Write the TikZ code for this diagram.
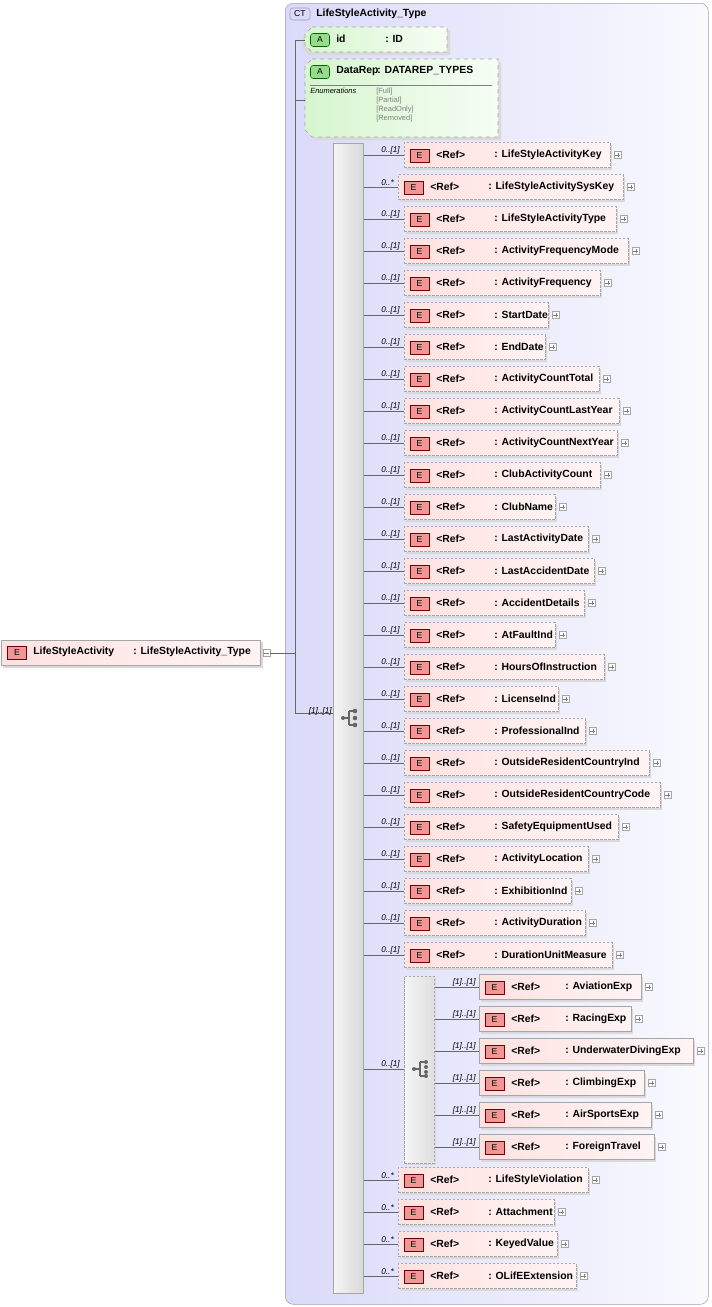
\documentclass[tikz,border=0pt]{standalone}
\usepackage{fontspec}
\setmainfont{Liberation Sans}
\usetikzlibrary{positioning}
\definecolor{ctfill}{RGB}{218,218,250}
\definecolor{ctline}{RGB}{160,160,180}
\definecolor{elfill}{RGB}{255,226,226}
\definecolor{badgefill}{RGB}{240,150,150}
\definecolor{attfill}{RGB}{214,246,206}
\definecolor{attbadge}{RGB}{150,220,140}
\tikzset{
  px/.style={x=0.75pt,y=-0.75pt},
  txt/.style={font=\bfseries\fontsize{7.8}{9}\selectfont, inner sep=0pt, anchor=west},
  card/.style={font=\itshape\fontsize{6.2}{7}\selectfont, inner sep=0pt, anchor=south east},
  enum/.style={font=\fontsize{5.6}{6.5}\selectfont, text=gray, inner sep=0pt, anchor=north west},
  elbox/.style={draw=gray!70, left color=elfill, right color=elfill!40, inner sep=0pt,
    minimum height=18.75pt, anchor=west},
  optbox/.style={elbox, dashed, dash pattern=on 2pt off 1pt},
  badge/.style={draw=red!45!black, fill=badgefill, font=\fontsize{6.5}{7}\selectfont,
    minimum width=14.25pt, minimum height=9.75pt, inner sep=0pt},
  plusbox/.style={draw=gray!70, fill=white, minimum size=5.5pt, inner sep=0pt},
  link/.style={draw=gray!80!black, line width=0.4pt},
}
\newcommand{\plusmark}[1]{%
  \node[plusbox, anchor=west] (#1p) at ([xshift=2.5pt]#1.east) {};
  \draw[gray, line width=0.3pt] ([xshift=-1.8pt]#1p.center) -- ([xshift=1.8pt]#1p.center)
    ([yshift=-1.8pt]#1p.center) -- ([yshift=1.8pt]#1p.center);}
\begin{document}
\begin{tikzpicture}[px]
\useasboundingbox (0,0) rectangle (711,1307);
% complex type frame
\node (ct) [draw=ctline, rounded corners=6pt, left color=ctfill, right color=ctfill!15,
  minimum width=317.25pt, minimum height=975.75pt, anchor=north west] at (285,3) {};
\node (ctb) [draw=ctline, fill=ctfill, rounded corners=2pt, minimum width=15pt,
  minimum height=9pt, inner sep=0pt, font=\fontsize{6.5}{7}\selectfont] at (300,14) {CT};
\node (ctt) [txt] at (316,14) {LifeStyleActivity\_Type};
% attributes
\fill[gray!30] (309,30) -- (450,30) -- (450,55) -- (309,55) -- (302,48) -- (302,37) -- cycle;
\draw[gray!70, dashed, left color=attfill, right color=attfill!20]
  (312,27) -- (447,27) -- (447,52) -- (312,52) -- (305,45) -- (305,34) -- cycle;
\node (ida) [draw=green!40!black, fill=attbadge, rounded corners=2pt, minimum width=14.25pt,
  minimum height=9.75pt, inner sep=0pt, font=\fontsize{6.5}{7}\selectfont] at (320,40) {A};
\node (idn) [txt] at (336,39) {id};
\node (idt) [txt] at (385,39) {: ID};
\fill[gray!30] (315,62) -- (501,62) -- (501,140) -- (315,140) -- (308,133) -- (308,69) -- cycle;
\draw[gray!70, dashed, left color=attfill, right color=attfill!20]
  (312,59) -- (498,59) -- (498,137) -- (312,137) -- (305,130) -- (305,66) -- cycle;
\node (dra) [draw=green!40!black, fill=attbadge, rounded corners=2pt, minimum width=14.25pt,
  minimum height=9.75pt, inner sep=0pt, font=\fontsize{6.5}{7}\selectfont] at (320,72) {A};
\node (drn) [txt] at (336,71) {DataRep};
\node (drt) [txt] at (377,71) {: DATAREP\_TYPES};
\draw[gray] (310,85) -- (492,85);
\node (enh) [enum, text=black, font=\itshape\fontsize{5.6}{6.5}\selectfont] at (310,88) {Enumerations};
\foreach \v [count=\k from 0] in {Full,Partial,ReadOnly,Removed}
  \node (en\k) [enum] at (376,88+9*\k) {[\v]};
% sequence compositor
\node (seq) [draw=gray!70, left color=gray!8, right color=gray!30, inner sep=0pt,
  minimum width=22.5pt, minimum height=862.5pt, anchor=north west] at (333,143) {};
\fill[gray!80!black] (343,718) circle (2);
\draw[gray!80!black, line width=0.8pt] (343,718) -- (349,718) (349,711) -- (349,725)
  (349,711) -- (355,711) (349,725) -- (355,725);
\foreach \yy in {711,718,725} \fill[gray!80!black] (355,\yy) circle (2.3);
% main element
\fill[gray!30] (3,642) rectangle (263,668);
\node (main) [elbox, minimum width=194.25pt] at (1,653) {};
\node (mainb) [badge] at (17,653) {E};
\node (mainn) [txt] at (33,652) {LifeStyleActivity};
\node (maint) [txt] at (133,652) {: LifeStyleActivity\_Type};
\node (mainm) [plusbox, anchor=west] at ([xshift=1.5pt]main.east) {};
\draw[gray, line width=0.3pt] ([xshift=-1.8pt]mainm.center) -- ([xshift=1.8pt]mainm.center);
\coordinate (trunk) at (295,653);
\draw[link] (mainm.east) -- (trunk);
\draw[link] (295,40) -- (295,713);
\draw[link] (295,40) -- (305,40);
\draw[link] (295,100) -- (305,100);
\draw[link] (295,713) -- (seq.west |- 0,713);
\node (seqc) [card] at (332,715) {[1]..[1]};
% sequence children
\foreach \r/\nm/\cd/\l [count=\i from 0] in {
  610/LifeStyleActivityKey/0..[1]/404, 623/LifeStyleActivitySysKey/0..*/398,
  616/LifeStyleActivityType/0..[1]/404, 628/ActivityFrequencyMode/0..[1]/404,
  600/ActivityFrequency/0..[1]/404, 548/StartDate/0..[1]/404, 545/EndDate/0..[1]/404,
  599/ActivityCountTotal/0..[1]/404, 619/ActivityCountLastYear/0..[1]/404,
  617/ActivityCountNextYear/0..[1]/404, 600/ClubActivityCount/0..[1]/404,
  555/ClubName/0..[1]/404, 588/LastActivityDate/0..[1]/404,
  594/LastAccidentDate/0..[1]/404, 584/AccidentDetails/0..[1]/404,
  555/AtFaultInd/0..[1]/404, 604/HoursOfInstruction/0..[1]/404,
  558/LicenseInd/0..[1]/404, 585/ProfessionalInd/0..[1]/404,
  649/OutsideResidentCountryInd/0..[1]/404, 660/OutsideResidentCountryCode/0..[1]/404,
  618/SafetyEquipmentUsed/0..[1]/404, 588/ActivityLocation/0..[1]/404,
  571/ExhibitionInd/0..[1]/404, 585/ActivityDuration/0..[1]/404,
  612/DurationUnitMeasure/0..[1]/404} {
  \pgfmathsetmacro{\yy}{155+32*\i}
  \fill[gray!30] (\l+2,\yy-10) rectangle (\r+2,\yy+15);
  \node (e\i) [optbox, minimum width={(\r-\l)*0.75pt}] at (\l,\yy) {};
  \node (e\i b) [badge] at (\l+15.5,\yy+1) {E};
  \node (e\i r) [txt] at (\l+32,\yy) {<Ref>};
  \node (e\i n) [txt] at (\l+90,\yy) {: \nm};
  \plusmark{e\i}
  \draw[link] (seq.east |- e\i.west) -- (e\i.west);
  \node (e\i c) [card] at (\l-4,\yy-1) {\cd};
}
% choice compositor
\fill[gray!30] (406,978) rectangle (436,1165);
\node (cho) [draw=gray!70, dashed, dash pattern=on 2pt off 1pt, left color=gray!8,
  right color=gray!25, inner sep=0pt, minimum width=22.5pt, minimum height=140.25pt,
  anchor=north west] at (404,976) {};
\draw[link] (seq.east |- 0,1069) -- (cho.west |- 0,1069);
\node (choc) [card] at (400,1068) {0..[1]};
\fill[gray!80!black] (414,1069) circle (2);
\draw[gray!80!black, line width=0.8pt] (414,1069) -- (420,1069) (420,1062) -- (420,1076)
  (420,1062) -- (426,1062) (420,1076) -- (426,1076);
\foreach \yy in {1062,1067,1072,1076} \fill[gray!80!black] (426,\yy) circle (2);
\foreach \r/\nm [count=\i from 0] in {641/AviationExp, 631/RacingExp,
  693/UnderwaterDivingExp, 644/ClimbingExp, 651/AirSportsExp, 654/ForeignTravel} {
  \pgfmathsetmacro{\yy}{987+32*\i}
  \fill[gray!30] (481,\yy-10) rectangle (\r+2,\yy+15);
  \node (c\i) [elbox, minimum width={(\r-479)*0.75pt}] at (479,\yy) {};
  \node (c\i b) [badge] at (494.5,\yy+1) {E};
  \node (c\i r) [txt] at (511,\yy) {<Ref>};
  \node (c\i n) [txt] at (565,\yy) {: \nm};
  \plusmark{c\i}
  \draw[link] (cho.east |- c\i.west) -- (c\i.west);
  \node (c\i c) [card] at (476,\yy-1) {[1]..[1]};
}
% trailing children
\foreach \r/\nm [count=\i from 0] in {588/LifeStyleViolation, 554/Attachment,
  557/KeyedValue, 576/OLifEExtension} {
  \pgfmathsetmacro{\yy}{1180+32*\i}
  \fill[gray!30] (400,\yy-10) rectangle (\r+2,\yy+15);
  \node (t\i) [optbox, minimum width={(\r-398)*0.75pt}] at (398,\yy) {};
  \node (t\i b) [badge] at (413.5,\yy+1) {E};
  \node (t\i r) [txt] at (430,\yy) {<Ref>};
  \node (t\i n) [txt] at (488,\yy) {: \nm};
  \plusmark{t\i}
  \draw[link] (seq.east |- t\i.west) -- (t\i.west);
  \node (t\i c) [card] at (394,\yy-1) {0..*};
}
\end{tikzpicture}
\end{document}
